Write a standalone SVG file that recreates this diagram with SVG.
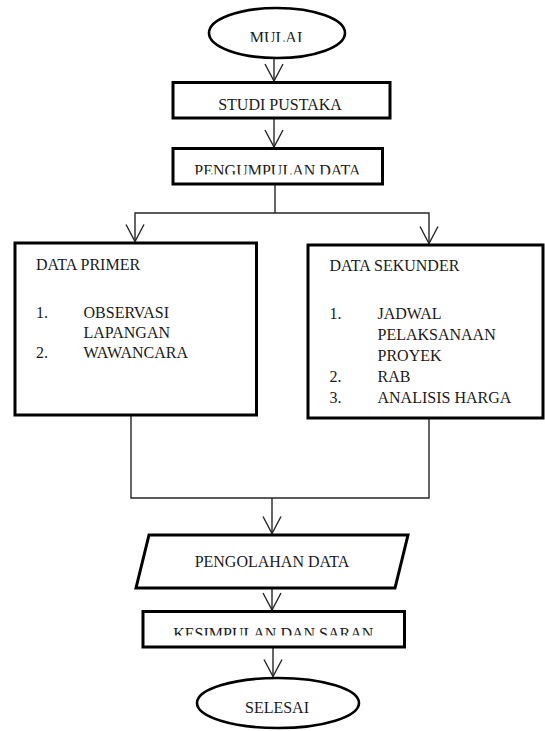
<svg xmlns="http://www.w3.org/2000/svg" width="545" height="731" viewBox="0 0 545 731">
<style>
  .box { fill: #ffffff; stroke: #000000; stroke-width: 3; }
  .oval { fill: #ffffff; stroke: #000000; stroke-width: 2.6; }
  .conn { fill: none; stroke: #262626; stroke-width: 1.4; }
  .t { font-family: "Liberation Serif", "Times New Roman", serif; font-size: 16px; fill: #1a1a1a; }
  .c { text-anchor: middle; }
</style>
<defs>
  <marker id="arr" viewBox="-19 -11 21 22" refX="0" refY="0" markerWidth="21" markerHeight="22" markerUnits="userSpaceOnUse" orient="auto">
    <path d="M-17,-9 L0,0 L-17,9" fill="none" stroke="#262626" stroke-width="1.4"/>
  </marker>
  <clipPath id="clipMulai"><rect x="200" y="20" width="160" height="22"/></clipPath>
  <clipPath id="clipPeng"><rect x="175" y="150" width="205" height="24.5"/></clipPath>
  <clipPath id="clipKes"><rect x="145" y="613" width="257" height="22.5"/></clipPath>
</defs>

<g id="connectors">
  <path class="conn" d="M274,58.5 V81" marker-end="url(#arr)"/>
  <path class="conn" d="M274,118 V147" marker-end="url(#arr)"/>
  <path class="conn" d="M275,184 V213"/>
  <path class="conn" d="M275,213 H135 V241.5" marker-end="url(#arr)"/>
  <path class="conn" d="M275,213 H429 V243.5" marker-end="url(#arr)"/>
  <path class="conn" d="M131,415 V498 H429 V418"/>
  <path class="conn" d="M272,498 V533.5" marker-end="url(#arr)"/>
  <path class="conn" d="M272,588 V610" marker-end="url(#arr)"/>
  <path class="conn" d="M273,647 V676.5" marker-end="url(#arr)"/>
</g>

<g id="mulai">
  <ellipse class="oval" cx="277" cy="33" rx="68" ry="25"/>
  <text class="t c" x="276" y="43" clip-path="url(#clipMulai)">MULAI</text>
</g>

<g id="studi-pustaka">
  <rect class="box" x="173" y="82.5" width="217" height="35.5"/>
  <text class="t c" x="280" y="110">STUDI PUSTAKA</text>
</g>

<g id="pengumpulan-data">
  <rect class="box" x="173" y="148.5" width="209.5" height="35.5"/>
  <text class="t c" x="277.5" y="175.6" clip-path="url(#clipPeng)">PENGUMPULAN DATA</text>
</g>

<g id="data-primer">
  <rect class="box" x="15" y="243" width="241.5" height="172"/>
  <text class="t" x="36" y="270">DATA PRIMER</text>
  <text class="t" x="36" y="318">1.</text>
  <text class="t" x="83.5" y="318">OBSERVASI</text>
  <text class="t" x="83.5" y="338">LAPANGAN</text>
  <text class="t" x="36" y="358">2.</text>
  <text class="t" x="83.5" y="358">WAWANCARA</text>
</g>

<g id="data-sekunder">
  <rect class="box" x="308" y="245" width="235" height="173"/>
  <text class="t" x="329.5" y="271">DATA SEKUNDER</text>
  <text class="t" x="329.5" y="319">1.</text>
  <text class="t" x="377.5" y="319">JADWAL</text>
  <text class="t" x="377.5" y="340">PELAKSANAAN</text>
  <text class="t" x="377.5" y="361">PROYEK</text>
  <text class="t" x="329.5" y="382">2.</text>
  <text class="t" x="377.5" y="382">RAB</text>
  <text class="t" x="329.5" y="403">3.</text>
  <text class="t" x="377.5" y="403">ANALISIS HARGA</text>
</g>

<g id="pengolahan-data">
  <polygon class="box" points="149,535 408,535 395,588 136,588"/>
  <text class="t c" x="272" y="566.5">PENGOLAHAN DATA</text>
</g>

<g id="kesimpulan-dan-saran">
  <rect class="box" x="143" y="611.5" width="261.5" height="35.5"/>
  <text class="t c" x="273.3" y="638.6" clip-path="url(#clipKes)">KESIMPULAN DAN SARAN</text>
</g>

<g id="selesai">
  <ellipse class="oval" cx="278" cy="703" rx="81" ry="25"/>
  <text class="t c" x="277" y="713">SELESAI</text>
</g>
</svg>
